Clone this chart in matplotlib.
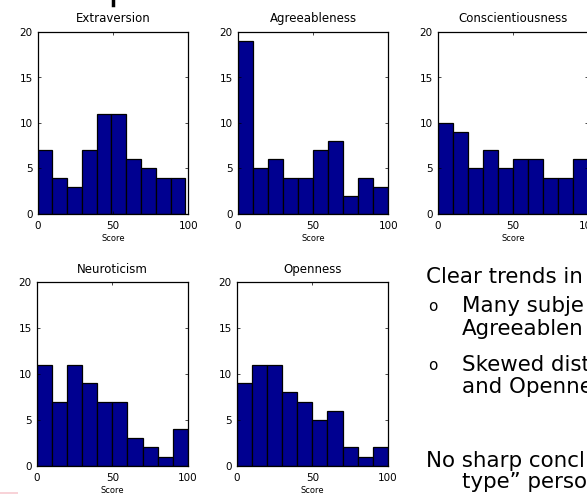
import numpy as np
import matplotlib
matplotlib.use('Agg')
import matplotlib.pyplot as plt
from matplotlib.lines import Line2D
from matplotlib.patches import Rectangle

# Histogram counts per trait (10 bins each)
traits = ['Extraversion', 'Agreeableness', 'Conscientiousness', 'Neuroticism', 'Openness']
extraversion = [7, 4, 3, 7, 11, 11, 6, 5, 4, 4]
agreeableness = [19, 5, 6, 4, 4, 7, 8, 2, 4, 3]
conscientiousness = [10, 9, 5, 7, 5, 6, 6, 4, 4, 6]
neuroticism = [11, 7, 11, 9, 7, 7, 3, 2, 1, 4]
openness = [9, 11, 11, 8, 7, 5, 6, 2, 1, 2]
counts = [extraversion, agreeableness, conscientiousness, neuroticism, openness]
# score range covered by the bins of each trait
score_min = [0, 0, 0, 0, 0]
score_max = [98, 100, 100, 100, 100]

xticks = [0, 50, 100]
yticks = [0, 5, 10, 15, 20]

bar_color = '#000090'

W, H = 587, 494
fig = plt.figure(figsize=(W / 100, H / 100), dpi=100)

# axes boxes in pixels: left, top, width, height
boxes = [(37.7, 32, 150.6, 182),
         (237.7, 32, 150.6, 182),
         (437.7, 32, 150.6, 182),
         (36.7, 282.3, 151.3, 183.4),
         (236.7, 282.3, 151.3, 183.4)]

for name, c, lo, hi, (l, t, w, h) in zip(traits, counts, score_min, score_max, boxes):
    ax = fig.add_axes([l / W, 1 - (t + h) / H, w / W, h / H])
    edges = np.linspace(lo, hi, len(c) + 1)
    ax.bar(edges[:-1], c, width=np.diff(edges), align='edge',
           color=bar_color, edgecolor='black', linewidth=0.9)
    ax.set_xlim(0, 100)
    ax.set_ylim(0, 20)
    ax.set_xticks(xticks)
    ax.set_yticks(yticks)
    ax.tick_params(direction='in', length=2.5, width=0.5, top=True, right=True,
                   labelsize=7.5)
    ax.tick_params(axis='x', pad=5)
    ax.tick_params(axis='y', pad=3.5)
    for s in ax.spines.values():
        s.set_linewidth(0.9)
    ax.set_title(name, fontsize=8.5, pad=7)
    ax.set_xlabel('Score', fontsize=6, labelpad=2.5)

# slide text on the right (cut by the right edge of the picture)
body = 15.4
def ftext(x, y, s, size=body):
    fig.text(x / W, 1 - y / H, s, fontsize=size, va='baseline', ha='left')

ftext(426, 283, 'Clear trends in')
ftext(428, 311, 'o', 11)
ftext(462, 312, 'Many subje')
ftext(462, 335, 'Agreeablen')
ftext(428, 370, 'o', 11)
ftext(462, 371, 'Skewed dist')
ftext(462, 393, 'and Openne')
ftext(426, 467, 'No sharp concl')
ftext(462, 488, 'type\u201d perso')

# remnants of the slide around the figure
fig.add_artist(Line2D([112.5 / W, 112.5 / W], [1, 1 - 5 / H], color='black', linewidth=2.5))
fig.add_artist(Rectangle((0, 0), 18 / W, 2.5 / H, color='#f8d3d8', linewidth=0))

fig.savefig('out.png', dpi=100)
